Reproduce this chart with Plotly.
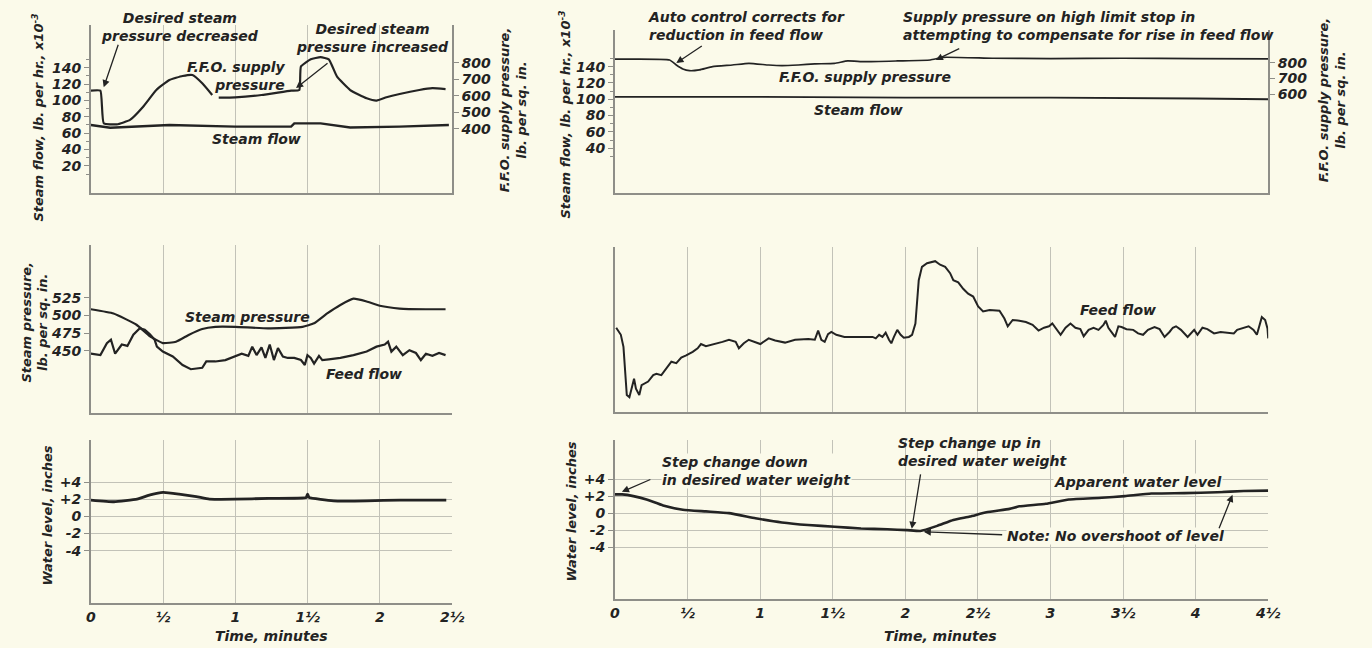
import plotly.graph_objects as go

W, H = 1372, 648
BG = '#fbfaea'
INK = '#232323'
GRID = '#c2c2b8'
AXIS = '#8e8e88'
FONT = 'DejaVu Sans'

# ---------------- data ----------------
# Left column (time 0 .. 2.5 min)
lt_time_ffo = [0, 0.066, 0.089, 0.18, 0.271, 0.362, 0.453, 0.544, 0.635, 0.703, 0.771, 0.84, 0.86,
               0.885, 0.999, 1.181, 1.386, 1.443, 1.454, 1.522, 1.59, 1.647, 1.704, 1.795, 1.909,
               1.977, 2.046, 2.137, 2.273, 2.364, 2.455]
lt_ffo_psi = [632, 632, 435, 428, 455, 535, 636, 697, 721, 727, 677, 606, None,
              590, 592, 606, 632, 636, 778, 822, 835, 822, 717, 636, 586,
              572, 592, 612, 636, 647, 642]

lt_time_steam = [0, 0.134, 0.544, 0.999, 1.386, 1.408, 1.59, 1.68, 1.795, 2.137, 2.478]
lt_steam_flow = [70, 66.7, 70, 68, 68, 72, 72, 70, 67, 68, 70]

lm_time_press = [0, 0.157, 0.316, 0.407, 0.498, 0.589, 0.68, 0.771, 0.862, 0.999, 1.226, 1.465,
                 1.545, 1.636, 1.727, 1.818, 1.909, 2.0, 2.137, 2.319, 2.455]
lm_steam_press = [509, 503, 487, 471, 461, 463, 473, 481, 484, 484, 482, 484,
                  489, 503, 515, 524, 520, 514, 510, 509, 509]

lm_time_feed = [0, 0.066, 0.111, 0.139, 0.168, 0.214, 0.253, 0.294, 0.339, 0.373, 0.407, 0.441,
                0.457, 0.498, 0.567, 0.635, 0.692, 0.771, 0.799, 0.862, 0.931, 0.999, 1.044,
                1.09, 1.117, 1.147, 1.181, 1.208, 1.238, 1.267, 1.295, 1.329, 1.363, 1.408,
                1.454, 1.481, 1.499, 1.522, 1.545, 1.579, 1.602, 1.647, 1.727, 1.818, 1.909,
                1.977, 2.034, 2.057, 2.08, 2.114, 2.159, 2.205, 2.25, 2.284, 2.319, 2.364,
                2.41, 2.455]
lm_feed_flow = [446, 444, 461, 466, 446, 459, 457, 473, 482, 480, 474, 466,
                456, 449, 442, 430, 424, 426, 435, 435, 437, 442, 446,
                443, 456, 444, 455, 440, 459, 437, 454, 442, 440, 440,
                437, 430, 444, 440, 432, 443, 437, 438, 440, 444, 449,
                456, 459, 463, 449, 456, 444, 451, 447, 437, 446, 443,
                447, 444]

lb_time_level = [0, 0.16, 0.32, 0.41, 0.5, 0.61, 0.73, 0.82, 1.0, 1.23, 1.49, 1.5, 1.51,
                 1.68, 1.91, 2.14, 2.46]
lb_water_level = [1.9, 1.7, 2.0, 2.5, 2.8, 2.6, 2.3, 2.0, 2.0, 2.1, 2.2, 2.6, 2.2,
                  1.8, 1.8, 1.9, 1.9]

# Right column (time 0 .. 4.5 min)
rt_time_ffo = [0, 0.377, 0.423, 0.468, 0.514, 0.582, 0.673, 0.809, 0.923, 1.059, 1.15, 1.263,
               1.377, 1.513, 1.604, 1.718, 1.945, 2.172, 2.263, 2.6, 3.0, 3.5, 4.0, 4.5]
rt_ffo_psi = [822, 817, 785, 760, 749, 754, 775, 785, 796, 785, 781, 785,
              792, 796, 811, 806, 811, 817, 834, 828, 826, 828, 826, 824]

rt_time_steam = [0, 1, 2, 3, 4, 4.5]
rt_steam_flow = [103, 103, 102, 102, 101, 100]

rm_time_feed = [0.009, 0.041, 0.059, 0.07, 0.082, 0.1, 0.116, 0.132, 0.145, 0.168, 0.184, 0.207,
                0.229, 0.264, 0.286, 0.32, 0.354, 0.389, 0.423, 0.457, 0.491, 0.536, 0.57,
                0.593, 0.627, 0.695, 0.741, 0.786, 0.832, 0.854, 0.888, 0.922, 0.968, 1.002,
                1.059, 1.104, 1.172, 1.241, 1.332, 1.377, 1.4, 1.422, 1.445, 1.468, 1.491,
                1.525, 1.581, 1.695, 1.741, 1.775, 1.797, 1.82, 1.843, 1.865, 1.888, 1.904,
                1.922, 1.945, 1.968, 1.99, 2.025, 2.047, 2.07, 2.093, 2.115, 2.15, 2.206,
                2.24, 2.275, 2.309, 2.331, 2.365, 2.399, 2.433, 2.468, 2.502, 2.536, 2.581,
                2.649, 2.683, 2.706, 2.74, 2.786, 2.831, 2.877, 2.918, 2.956, 2.99, 3.013,
                3.036, 3.07, 3.104, 3.138, 3.172, 3.206, 3.229, 3.263, 3.297, 3.331, 3.365,
                3.381, 3.399, 3.422, 3.445, 3.468, 3.49, 3.524, 3.57, 3.604, 3.638, 3.672,
                3.717, 3.752, 3.786, 3.82, 3.843, 3.865, 3.899, 3.945, 3.99, 4.013, 4.047,
                4.081, 4.127, 4.172, 4.218, 4.263, 4.286, 4.331, 4.365, 4.399, 4.422, 4.456,
                4.479, 4.495, 4.5]
rm_feed_flow = [483, 473, 456, 418, 388, 385, 400, 411, 397, 388, 402, 404,
                407, 416, 418, 416, 425, 435, 433, 441, 444, 449, 454,
                460, 457, 460, 463, 466, 463, 454, 461, 466, 462, 460,
                468, 465, 462, 466, 467, 466, 479, 466, 463, 474, 477,
                473, 470, 470, 469, 470, 468, 473, 470, 476, 466, 461,
                470, 480, 473, 469, 470, 473, 489, 550, 569, 574, 577,
                572, 569, 560, 550, 547, 538, 531, 527, 513, 506, 508,
                507, 496, 485, 494, 493, 491, 487, 479, 483, 485, 489,
                483, 473, 483, 489, 483, 481, 471, 480, 483, 480, 487,
                493, 483, 477, 470, 485, 484, 481, 480, 475, 473, 480,
                484, 481, 470, 477, 483, 485, 480, 470, 480, 473, 483,
                481, 475, 477, 476, 475, 480, 483, 485, 480, 473, 498,
                494, 482, 468]

rb_time_level = [0, 0.05, 0.127, 0.218, 0.332, 0.468, 0.627, 0.786, 0.968, 1.15, 1.33, 1.513,
                 1.695, 1.877, 2.013, 2.104, 2.22, 2.331, 2.445, 2.559, 2.718, 2.786, 2.968,
                 3.127, 3.354, 3.513, 3.695, 3.922, 4.149, 4.331, 4.5]
rb_water_level = [2.2, 2.2, 2.0, 1.6, 0.9, 0.4, 0.2, 0.0, -0.6, -1.1, -1.4, -1.6,
                  -1.8, -1.9, -2.0, -2.1, -1.5, -0.8, -0.4, 0.1, 0.5, 0.8, 1.1,
                  1.6, 1.8, 2.0, 2.3, 2.35, 2.45, 2.6, 2.65]

left_x_ticks = [0, 0.5, 1, 1.5, 2, 2.5]
left_x_text = ['0', '½', '1', '1½', '2', '2½']
right_x_ticks = [0, 0.5, 1, 1.5, 2, 2.5, 3, 3.5, 4, 4.5]
right_x_text = ['0', '½', '1', '1½', '2', '2½', '3', '3½', '4', '4½']

flow_ticks_left = [20, 40, 60, 80, 100, 120, 140]
flow_ticks_right = [40, 60, 80, 100, 120, 140]
ffo_ticks_left = [400, 500, 600, 700, 800]
ffo_ticks_right = [600, 700, 800]
press_ticks = [450, 475, 500, 525]
level_ticks = [-4, -2, 0, 2, 4]
level_text = ['-4', '-2', '0', '+2', '+4']


# ---------------- helpers ----------------
def px(x):
    return x / W


def py(y):
    return 1 - y / H


TICKFONT = dict(family=FONT, size=14, color=INK, style='italic', weight='bold')


def xaxis(domain, rng, anchor, ticks, text, grid=True, labels=False):
    return dict(domain=domain, range=rng, anchor=anchor, showgrid=grid, gridcolor=GRID, gridwidth=1,
                tickmode='array', tickvals=ticks, ticktext=text, showticklabels=labels,
                ticks='', showline=True, linecolor=AXIS, linewidth=1.5, zeroline=False,
                tickfont=TICKFONT, fixedrange=True)


def yaxis(domain, rng, anchor, ticks=None, text=None, grid=False, side='left', minor=None):
    d = dict(domain=domain, range=rng, anchor=anchor, side=side, showgrid=grid, gridcolor=GRID,
             gridwidth=1, zeroline=False, showline=True, linecolor=AXIS, linewidth=1.5,
             tickfont=TICKFONT, fixedrange=True)
    if ticks is None:
        d.update(showticklabels=False, ticks='')
    else:
        d.update(tickmode='array', tickvals=ticks, ticks='outside', ticklen=5, tickcolor=AXIS,
                 tickwidth=1)
        if text is not None:
            d['ticktext'] = text
        if minor is not None:
            d['minor'] = dict(tickvals=minor, ticklen=3, tickcolor=AXIS, ticks='outside')
    return d


def line(width=2):
    return dict(color=INK, width=width, shape='spline', smoothing=0.4)


fig = go.Figure()

# Left top
fig.add_trace(go.Scatter(x=lt_time_ffo, y=lt_ffo_psi, xaxis='x', yaxis='y7', mode='lines',
                         line=line(2.2), connectgaps=False, name='F.F.O. supply pressure'))
fig.add_trace(go.Scatter(x=lt_time_steam, y=lt_steam_flow, xaxis='x', yaxis='y', mode='lines',
                         line=dict(color=INK, width=2.4), name='Steam flow'))
# Left middle
fig.add_trace(go.Scatter(x=lm_time_press, y=lm_steam_press, xaxis='x2', yaxis='y2', mode='lines',
                         line=line(2.2), name='Steam pressure'))
fig.add_trace(go.Scatter(x=lm_time_feed, y=lm_feed_flow, xaxis='x2', yaxis='y2', mode='lines',
                         line=dict(color=INK, width=2.2), name='Feed flow'))
# Left bottom
fig.add_trace(go.Scatter(x=lb_time_level, y=lb_water_level, xaxis='x3', yaxis='y3', mode='lines',
                         line=line(2.8), name='Water level'))
# Right top
fig.add_trace(go.Scatter(x=rt_time_ffo, y=rt_ffo_psi, xaxis='x4', yaxis='y8', mode='lines',
                         line=line(1.7), name='F.F.O. supply pressure'))
fig.add_trace(go.Scatter(x=rt_time_steam, y=rt_steam_flow, xaxis='x4', yaxis='y4', mode='lines',
                         line=dict(color=INK, width=1.9), name='Steam flow'))
# Right middle
fig.add_trace(go.Scatter(x=rm_time_feed, y=rm_feed_flow, xaxis='x5', yaxis='y5', mode='lines',
                         line=dict(color=INK, width=2), name='Feed flow'))
# Right bottom
fig.add_trace(go.Scatter(x=rb_time_level, y=rb_water_level, xaxis='x6', yaxis='y6', mode='lines',
                         line=line(2.6), name='Apparent water level'))

LX = [px(87), px(453)]
RX = [px(618), px(1280)]

fig.update_layout(
    width=W, height=H, showlegend=False,
    paper_bgcolor=BG, plot_bgcolor=BG,
    margin=dict(l=0, r=0, t=0, b=0),
    xaxis=xaxis(LX, [0, 2.5], 'y', left_x_ticks, left_x_text),
    xaxis2=xaxis(LX, [0, 2.5], 'y2', left_x_ticks, left_x_text),
    xaxis3=xaxis(LX, [0, 2.5], 'y3', left_x_ticks, left_x_text, labels=True),
    xaxis4=xaxis(RX, [0, 4.5], 'y4', right_x_ticks, right_x_text, grid=False),
    xaxis5=xaxis(RX, [0, 4.5], 'y5', right_x_ticks, right_x_text),
    xaxis6=xaxis(RX, [0, 4.5], 'y6', right_x_ticks, right_x_text, labels=True),
    yaxis=yaxis([py(193), py(25)], [-13, 192], 'x', flow_ticks_left,
                minor=[10, 30, 50, 70, 90, 110, 130, 150]),
    yaxis7=dict(yaxis([py(193), py(25)], [12, 1030], 'x', ffo_ticks_left, side='right'),
                overlaying='y'),
    yaxis2=yaxis([py(413), py(245)], [362, 600], 'x2', press_ticks),
    yaxis3=yaxis([py(603), py(440)], [-10.1, 8.9], 'x3', level_ticks, level_text, grid=True),
    yaxis4=yaxis([py(193), py(30)], [-15, 185], 'x4', flow_ticks_right,
                 minor=[30, 50, 70, 90, 110, 130, 150]),
    yaxis8=dict(yaxis([py(193), py(30)], [-30, 1008], 'x4', ffo_ticks_right, side='right'),
                overlaying='y4'),
    yaxis5=yaxis([py(412), py(247)], [364, 597], 'x5'),
    yaxis6=yaxis([py(599), py(440)], [-10.1, 8.6], 'x6', level_ticks, level_text, grid=True),
)

ANN = dict(family=FONT, size=14, color=INK, style='italic', weight='bold')
TITLE = dict(family=FONT, size=13, color=INK, style='italic', weight='bold')


def text(x, y, s, xanchor='center', align='center', font=ANN, angle=0, bg=None):
    d = dict(x=px(x), y=py(y), xref='paper', yref='paper', text=s, showarrow=False,
             xanchor=xanchor, yanchor='middle', align=align, font=font, textangle=angle)
    if bg:
        d.update(bgcolor=bg, borderpad=0)
    fig.add_annotation(**d)


def arrow(x, y, xref, yref, ax, ay):
    fig.add_annotation(x=x, y=y, xref=xref, yref=yref, ax=ax, ay=ay, text='', showarrow=True,
                       arrowhead=2, arrowsize=1.1, arrowwidth=1.3, arrowcolor=INK)


# Left top annotations
text(177, 27, 'Desired steam<br>pressure decreased')
text(372, 38, 'Desired steam<br>pressure increased')
text(287, 76, 'F.F.O. supply<br>pressure', xanchor='right', align='right')
text(255, 139, 'Steam flow')
arrow(0.089, 116, 'x', 'y', 15, -44)
arrow(1.42, 115, 'x', 'y', 33, -26)
text(33, 118, 'Steam flow, lb. per hr., x10<sup>-3</sup>', font=TITLE, angle=-90)
text(515, 110, 'F.F.O. supply pressure,<br>lb. per sq. in.', font=TITLE, angle=-90)

# Left middle
text(246, 317, 'Steam pressure')
text(364, 374, 'Feed flow')
text(30, 322, 'Steam pressure,<br>lb. per sq. in.', font=TITLE, angle=-90)

# Left bottom
text(43, 515, 'Water level, inches', font=TITLE, angle=-90)
text(270, 636, 'Time, minutes')

# Right top
text(650, 26, 'Auto control corrects for<br>reduction in feed flow', xanchor='left', align='left')
text(908, 26, 'Supply pressure on high limit stop in<br>attempting to compensate for rise in feed flow',
     xanchor='left', align='left')
text(871, 77, 'F.F.O. supply pressure')
text(865, 110, 'Steam flow')
arrow(0.423, 798, 'x4', 'y8', 27, -18)
arrow(2.21, 817, 'x4', 'y8', 25, -12)
text(567, 115, 'Steam flow, lb. per hr., x10<sup>-3</sup>', font=TITLE, angle=-90)
text(1345, 100, 'F.F.O. supply pressure,<br>lb. per sq. in.', font=TITLE, angle=-90)

# Right middle
text(1128, 310, 'Feed flow')

# Right bottom
text(665, 471, 'Step change down<br>in desired water weight', xanchor='left', align='left', bg=BG)
text(903, 452, 'Step change up in<br>desired water weight', xanchor='left', align='left')
text(1148, 482, 'Apparent water level', bg=BG)
text(1125, 536, 'Note: No overshoot of level', bg=BG)
arrow(0.048, 2.5, 'x6', 'y6', 30, -13)
arrow(2.045, -1.85, 'x6', 'y6', 9, -56)
arrow(2.127, -2.2, 'x6', 'y6', 80, 3)
arrow(4.254, 2.15, 'x6', 'y6', -14, 35)
text(575, 511, 'Water level, inches', font=TITLE, angle=-90)
text(947, 636, 'Time, minutes')

fig.write_html('out.html', config={'displayModeBar': False},
               post_script="document.body.style.margin='0';document.body.style.overflow='hidden';")
